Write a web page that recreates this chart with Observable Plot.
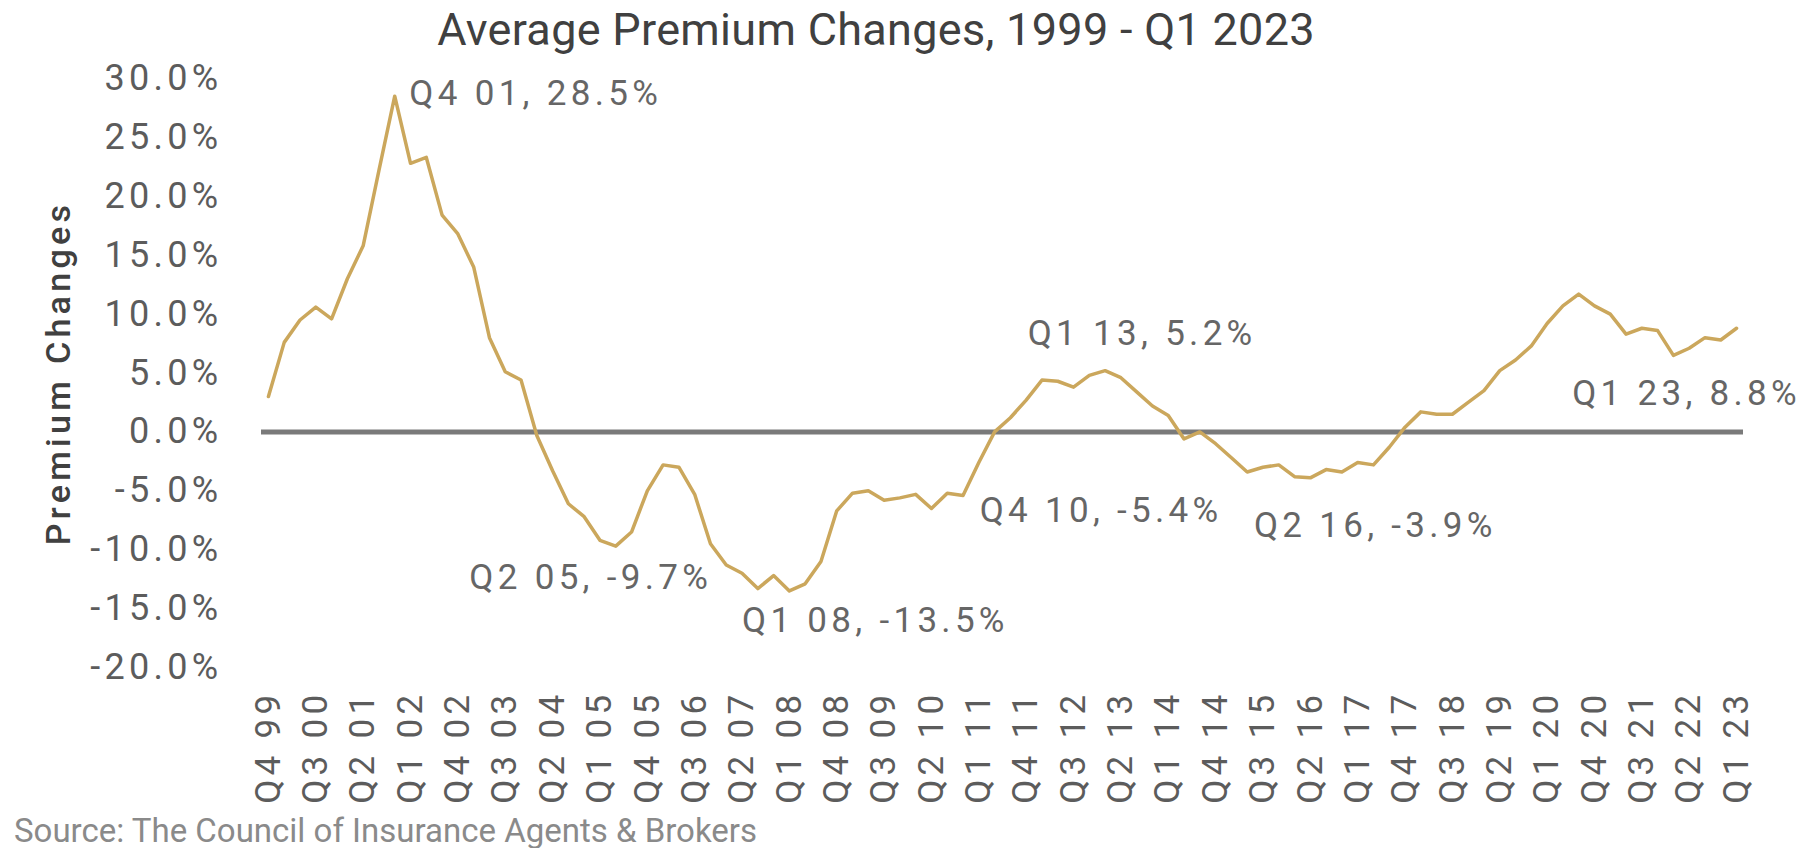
<!DOCTYPE html>
<html><head><meta charset="utf-8">
<script src="https://cdn.jsdelivr.net/npm/d3@7"></script>
<script src="https://cdn.jsdelivr.net/npm/@observablehq/plot@0.6"></script>
<style>
body{margin:0;background:#fff;width:1804px;height:848px;overflow:hidden;font-family:Roboto,sans-serif}
#title{width:1752px;height:58px;line-height:60px;text-align:center;font-size:45px;letter-spacing:0.3px;color:#404040;white-space:nowrap}
#src{height:34px;line-height:34px;padding-left:14px;font-size:33px;color:#8a8a8a;white-space:nowrap}
#chart svg{display:block}
</style></head><body>
<div id="title">Average Premium Changes, 1999 - Q1 2023</div>
<div id="chart"></div>
<div id="src">Source: The Council of Insurance Agents &amp; Brokers</div>
<script>
// Quarterly average premium change (%), Q4 1999 .. Q1 2023 (94 quarters)
const premiumChange = [
  3.0, 7.6, 9.5, 10.6, 9.6, 13.0, 15.8, 22.2, 28.5, 22.8,
  23.3, 18.4, 16.8, 14.0, 8.0, 5.1, 4.4, -0.3, -3.3, -6.1,
  -7.2, -9.2, -9.7, -8.5, -5.0, -2.8, -3.0, -5.3, -9.5, -11.3,
  -12.0, -13.3, -12.2, -13.5, -12.9, -11.0, -6.7, -5.2, -5.0, -5.8,
  -5.6, -5.3, -6.5, -5.2, -5.4, -2.6, 0.0, 1.2, 2.7, 4.4,
  4.3, 3.8, 4.8, 5.2, 4.6, 3.4, 2.2, 1.4, -0.6, 0.0,
  -1.0, -2.2, -3.4, -3.0, -2.8, -3.8, -3.9, -3.2, -3.4, -2.6,
  -2.8, -1.3, 0.4, 1.7, 1.5, 1.5, 2.5, 3.5, 5.2, 6.1,
  7.3, 9.2, 10.7, 11.7, 10.7, 10.0, 8.3, 8.8, 8.6, 6.5,
  7.1, 8.0, 7.8, 8.8
];
// x tick labels (every third quarter)
const tickLabels = ["Q4 99","Q3 00","Q2 01","Q1 02","Q4 02","Q3 03","Q2 04","Q1 05","Q4 05","Q3 06",
  "Q2 07","Q1 08","Q4 08","Q3 09","Q2 10","Q1 11","Q4 11","Q3 12","Q2 13","Q1 14",
  "Q4 14","Q3 15","Q2 16","Q1 17","Q4 17","Q3 18","Q2 19","Q1 20","Q4 20","Q3 21",
  "Q2 22","Q1 23"];
const tickIndex = tickLabels.map((_, k) => k * 3);
const yTicks = [-20, -15, -10, -5, 0, 5, 10, 15, 20, 25, 30];
// annotated points (quarter index) and their texts
const annoIndex = [8, 22, 33, 44, 53, 66, 93];
const annoText = ["Q4 01, 28.5%","Q2 05, -9.7%","Q1 08, -13.5%","Q4 10, -5.4%","Q1 13, 5.2%","Q2 16, -3.9%","Q1 23, 8.8%"];
// label offsets (layout only)
const annoOffset = [[141,-2],[-25,32],[86,30],[138,15],[37,-37],[65,48],[-50,66]];

const data = premiumChange.map((v, i) => ({i, v}));

const marks = [
  Plot.axisY({ticks: yTicks, tickFormat: d => d.toFixed(1) + "%", tickSize: 0, tickPadding: 39, fontSize: 36, label: null}),
  Plot.axisX({ticks: tickIndex, tickFormat: d => tickLabels[d / 3], tickRotate: -90, tickSize: 0, tickPadding: 23, fontSize: 35, label: null}),
  Plot.ruleY([0], {stroke: "#7a7a7a", strokeWidth: 5}),
  Plot.line(data, {x: "i", y: "v", stroke: "#CBA75C", strokeWidth: 3.5, strokeLinejoin: "round"}),
  Plot.text(["Premium Changes"], {frameAnchor: "left", dx: -202, rotate: -90, textAnchor: "middle", fontSize: 34, fill: "#404040", fontWeight: 500, letterSpacing: "1px"})
];
annoIndex.forEach((idx, k) => {
  marks.push(Plot.text([idx], {x: d => d, y: d => premiumChange[d], text: () => annoText[k],
    dx: annoOffset[k][0], dy: annoOffset[k][1], fontSize: 35, fill: "#666666", textAnchor: "middle", letterSpacing: "3.5px"}));
});

const chart = Plot.plot({
  width: 1804, height: 756,
  marginLeft: 261, marginRight: 61, marginTop: 20, marginBottom: 147,
  style: {fontFamily: "Roboto, sans-serif", background: "#fff", color: "#5c5c5c", letterSpacing: "4.3px", overflow: "visible"},
  x: {type: "linear", domain: [-0.44, 93.44], axis: null},
  y: {domain: [-20, 30], axis: null},
  marks
});
document.getElementById("chart").append(chart);
</script>
</body></html>
